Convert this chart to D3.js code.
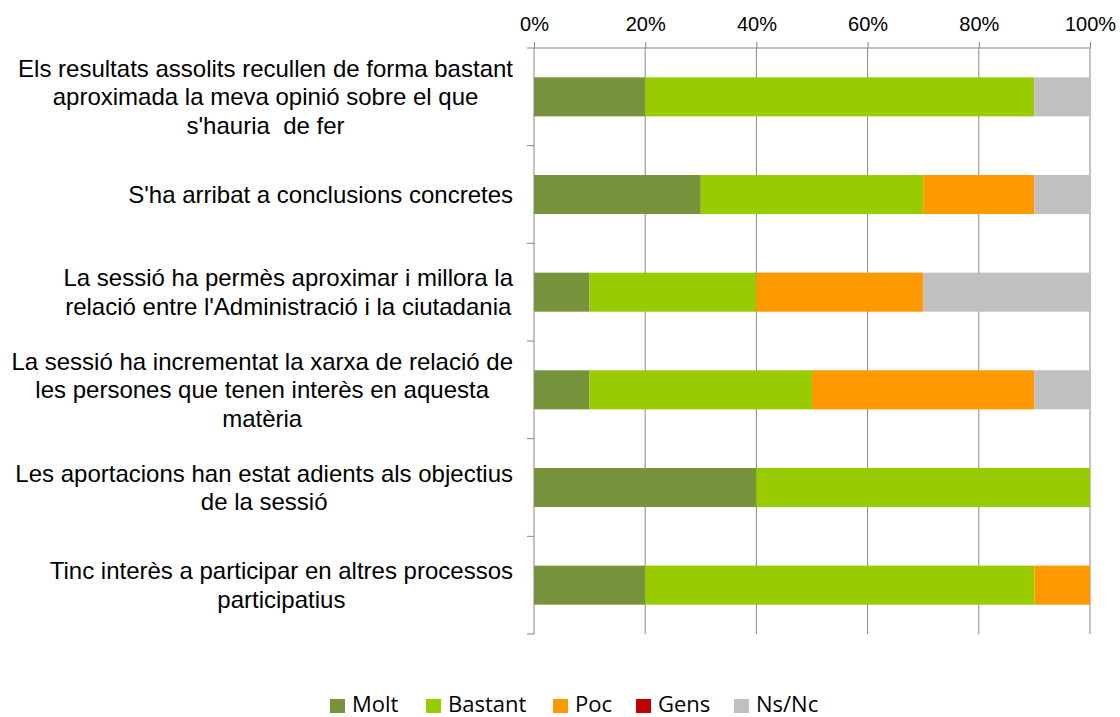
<!DOCTYPE html>
<html>
<head>
<meta charset="utf-8">
<script src="https://cdn.jsdelivr.net/npm/d3@7"></script>
<style>
  body { margin: 0; background: #fff; }
  svg text { white-space: pre; }
</style>
</head>
<body>
<svg id="chart" width="1120" height="717"></svg>
<script>
// categories (each one split in the lines shown on the chart)
var categories = [
    ["Els resultats assolits recullen de forma bastant", "aproximada la meva opinió sobre el que", "s'hauria  de fer"],
    ["S'ha arribat a conclusions concretes"],
    ["La sessió ha permès aproximar i millora la", "relació entre l'Administració i la ciutadania"],
    ["La sessió ha incrementat la xarxa de relació de", "les persones que tenen interès en aquesta", "matèria"],
    ["Les aportacions han estat adients als objectius", "de la sessió"],
    ["Tinc interès a participar en altres processos", "participatius"]
];

var keys = ["Molt", "Bastant", "Poc", "Gens", "Ns/Nc"];

// percentages per series, same order as categories
var molt    = [20, 30, 10, 10, 40, 20];
var bastant = [70, 40, 30, 40, 60, 70];
var poc     = [0, 20, 30, 40, 0, 10];
var gens    = [0, 0, 0, 0, 0, 0];
var nsnc    = [10, 10, 30, 10, 0, 0];

var tickValues = [0, 0.2, 0.4, 0.6, 0.8, 1];

var colors = ["#77933C", "#99CC00", "#FF9900", "#C00000", "#C0C0C0"];

var dimensions = {
    width: 1120,
    height: 717,
    margin: { top: 48, bottom: 83, left: 534, right: 30 }
};

var rows = categories.map(function(c, i) {
    return { id: i, Molt: molt[i], Bastant: bastant[i], Poc: poc[i], Gens: gens[i], "Ns/Nc": nsnc[i] };
});

var svg = d3.select("#chart");

var xScale = d3.scaleLinear()
    .domain([0, 1])
    .range([dimensions.margin.left, dimensions.width - dimensions.margin.right]);

var yScale = d3.scaleBand()
    .domain(rows.map(function(d) { return d.id; }))
    .range([dimensions.margin.top, dimensions.height - dimensions.margin.bottom])
    .paddingInner(0.6)
    .paddingOuter(0.3);

var colorScale = d3.scaleOrdinal().domain(keys).range(colors);

var stack = d3.stack()
    .keys(keys)
    .offset(d3.stackOffsetExpand)
    (rows);

var yTop = dimensions.margin.top;
var yBottom = dimensions.height - dimensions.margin.bottom;
var axisColor = "#868686";

// vertical gridlines
svg.append("g")
    .selectAll("line")
    .data(tickValues.slice(1))
    .enter()
    .append("line")
    .attr("x1", function(d) { return xScale(d); })
    .attr("x2", function(d) { return xScale(d); })
    .attr("y1", yTop)
    .attr("y2", yBottom)
    .attr("stroke", axisColor)
    .attr("stroke-width", 1);

// stacked bars
svg.append("g")
    .selectAll("g")
    .data(stack)
    .enter()
    .append("g")
    .attr("fill", function(d) { return colorScale(d.key); })
    .selectAll("rect")
    .data(function(d) { return d; })
    .enter()
    .append("rect")
    .attr("x", function(d) { return xScale(d[0]); })
    .attr("y", function(d) { return yScale(d.data.id); })
    .attr("width", function(d) { return xScale(d[1]) - xScale(d[0]); })
    .attr("height", yScale.bandwidth());

// top axis
var xAxis = d3.axisTop(xScale)
    .tickValues(tickValues)
    .tickFormat(d3.format(".0%"))
    .tickSizeOuter(0)
    .tickSizeInner(6)
    .tickPadding(11);

var gx = svg.append("g")
    .attr("transform", "translate(0," + yTop + ")")
    .call(xAxis);
gx.select(".domain").remove();
gx.append("line")
    .attr("x1", xScale(0) - 7)
    .attr("x2", xScale(1))
    .attr("stroke", axisColor);
gx.selectAll(".tick line").attr("stroke", axisColor);
gx.selectAll(".tick text")
    .attr("fill", "#000")
    .style("font-family", "'Liberation Sans', Arial, sans-serif")
    .style("font-size", "20px");

// left axis line + category separators
var step = yScale.step();
var gy = svg.append("g");
gy.append("line")
    .attr("x1", xScale(0)).attr("x2", xScale(0))
    .attr("y1", yTop).attr("y2", yBottom)
    .attr("stroke", axisColor);
gy.selectAll("line.sep")
    .data(d3.range(1, rows.length + 1))
    .enter()
    .append("line")
    .attr("class", "sep")
    .attr("x1", xScale(0) - 7).attr("x2", xScale(0))
    .attr("y1", function(i) { return yTop + i * step; })
    .attr("y2", function(i) { return yTop + i * step; })
    .attr("stroke", axisColor);

// category labels: block right aligned, lines centred in the block
var labelRight = 513;
var lineH = 28.5;
var labels = svg.append("g")
    .selectAll("text")
    .data(rows)
    .enter()
    .append("text")
    .attr("text-anchor", "middle")
    .style("font-family", "'Liberation Sans', Arial, sans-serif")
    .style("font-size", "24px")
    .attr("fill", "#000");

labels.each(function(d) {
    var lines = categories[d.id];
    var cy = yScale(d.id) + yScale.bandwidth() / 2;
    var t = d3.select(this);
    var spans = lines.map(function(l, j) {
        return t.append("tspan")
            .attr("y", cy + (j - (lines.length - 1) / 2) * lineH)
            .attr("dy", "0.35em")
            .text(l);
    });
    var maxW = d3.max(spans, function(s) { return s.node().getComputedTextLength(); });
    spans.forEach(function(s) { s.attr("x", labelRight - maxW / 2); });
});

// legend
var legendX = [330, 426, 553, 636, 734];
var legend = svg.append("g")
    .selectAll("g")
    .data(keys)
    .enter()
    .append("g")
    .attr("transform", function(d, i) { return "translate(" + legendX[i] + ",699)"; });

legend.append("rect")
    .attr("width", 15)
    .attr("height", 14)
    .attr("fill", function(d) { return colorScale(d); });

legend.append("text")
    .attr("x", 22)
    .attr("y", 13)
    .style("font-family", "'Open Sans', 'Noto Sans', sans-serif")
    .style("font-size", "22px")
    .attr("fill", "#000")
    .text(function(d) { return d; });
</script>
</body>
</html>
